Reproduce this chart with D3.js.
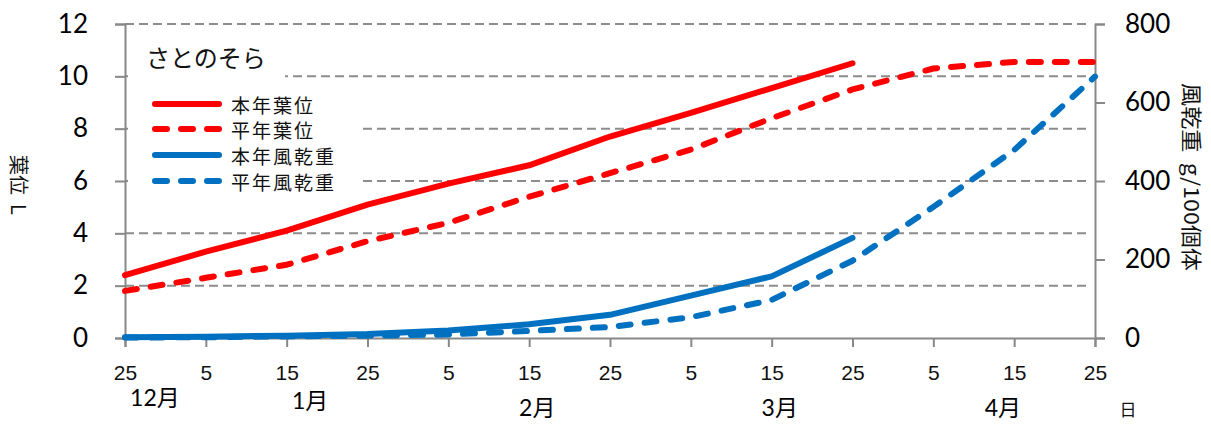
<!DOCTYPE html>
<html>
<head>
<meta charset="utf-8">
<script src="https://cdn.jsdelivr.net/npm/d3@7"></script>
<style>
  html, body { margin: 0; padding: 0; background: #fff; }
  svg { display: block; }
</style>
</head>
<body>
<svg id="chart" width="1211" height="424"></svg>
<script>
// Ten-day survey dates (Dec 25 → Apr 25)
const dayLabels = ["25", "5", "15", "25", "5", "15", "25", "5", "15", "25", "5", "15", "25"];
const monthLabels = ["12月", "1月", "2月", "3月", "4月"];

// Leaf stage (left axis, L)
const leafThisYear = [2.4, 3.3, 4.1, 5.1, 5.9, 6.6, 7.7, 8.6, 9.55, 10.5];
const leafNormal   = [1.8, 2.3, 2.8, 3.7, 4.4, 5.4, 6.3, 7.2, 8.4, 9.5, 10.3, 10.55, 10.55];

// Air-dry weight (right axis, g/100 plants)
const dryThisYear = [2, 3, 6, 10, 19, 35, 59, 108, 157, 255];
const dryNormal   = [1, 2, 4, 6, 9, 18, 28, 53, 97, 197, 334, 479, 666];

const leftTicks  = [0, 2, 4, 6, 8, 10, 12];
const rightTicks = [0, 200, 400, 600, 800];

const seriesNames = ["本年葉位", "平年葉位", "本年風乾重", "平年風乾重"];
const chartTitle = "さとのそら";

const RED = "#ff0000", BLUE = "#0070c0", GRID = "#8c8c8c", AXIS = "#888888";
const NUM_FONT = "Lato, 'Noto Sans CJK JP', sans-serif";
const JP_FONT = "'Noto Sans CJK JP', sans-serif";

const svg = d3.select("#chart");
const plotLeft = 125, plotRight = 1095, plotTop = 24, plotBottom = 338;

const x = d3.scalePoint().domain(d3.range(dayLabels.length)).range([plotLeft, plotRight]);
const yL = d3.scaleLinear().domain([0, 12]).range([plotBottom, plotTop]);
const yR = d3.scaleLinear().domain([0, 800]).range([plotBottom, plotTop]);

// Horizontal dashed gridlines
svg.append("g").selectAll("line")
  .data(leftTicks.filter(d => d > 0))
  .join("line")
  .attr("x1", plotLeft).attr("x2", plotRight - 6)
  .attr("y1", d => yL(d)).attr("y2", d => yL(d))
  .attr("stroke", GRID).attr("stroke-width", 2)
  .attr("stroke-dasharray", "9,5");

// Left axis
const axL = svg.append("g").attr("transform", `translate(${plotLeft},0)`)
  .call(d3.axisLeft(yL).tickValues(leftTicks).tickSize(10).tickPadding(27));
axL.select(".domain").attr("stroke", AXIS).attr("stroke-width", 2);
axL.selectAll(".tick line").attr("stroke", AXIS).attr("stroke-width", 2);
axL.selectAll(".tick text").attr("font-family", NUM_FONT).attr("font-size", 26).attr("fill", "#000");

// Right axis
const axR = svg.append("g").attr("transform", `translate(${plotRight},0)`)
  .call(d3.axisRight(yR).tickValues(rightTicks).tickSize(10).tickPadding(20));
axR.select(".domain").attr("stroke", AXIS).attr("stroke-width", 2);
axR.selectAll(".tick line").attr("stroke", AXIS).attr("stroke-width", 2);
axR.selectAll(".tick text").attr("font-family", NUM_FONT).attr("font-size", 26).attr("fill", "#000");

// Bottom axis with day labels
const axB = svg.append("g").attr("transform", `translate(0,${plotBottom})`)
  .call(d3.axisBottom(x).tickFormat(i => dayLabels[i]).tickSize(9).tickPadding(18));
axB.select(".domain").attr("stroke", AXIS).attr("stroke-width", 2);
axB.selectAll(".tick line").attr("stroke", AXIS).attr("stroke-width", 2);
axB.selectAll(".tick text").attr("font-family", "'Liberation Sans', sans-serif").attr("font-size", 21).attr("fill", "#111");

// Month labels beneath the day ticks (fractional tick position, vertical centre)
const monthLayout = [[0.37, 397], [2.29, 400], [5.1, 407], [8.1, 407], [10.86, 407]];
const step = x.step();
svg.append("g").selectAll("text")
  .data(monthLabels)
  .join("text")
  .attr("x", (d, i) => plotLeft + monthLayout[i][0] * step)
  .attr("y", (d, i) => monthLayout[i][1])
  .attr("text-anchor", "middle").attr("dominant-baseline", "central")
  .attr("font-family", NUM_FONT).attr("font-size", 23).attr("fill", "#000")
  .text(d => d);

svg.append("text").attr("x", 1128).attr("y", 408)
  .attr("text-anchor", "middle").attr("dominant-baseline", "central")
  .attr("font-family", JP_FONT).attr("font-size", 17).attr("fill", "#111").text("日");

// Axis titles (rotated clockwise)
svg.append("text").attr("transform", "translate(19,185) rotate(90)")
  .attr("text-anchor", "middle").attr("dominant-baseline", "central")
  .attr("font-family", JP_FONT).attr("font-size", 20).attr("fill", "#111")
  .attr("xml:space", "preserve").text("葉位  L");

svg.append("text").attr("transform", "translate(1193,177) rotate(90)")
  .attr("text-anchor", "middle").attr("dominant-baseline", "central")
  .attr("font-family", JP_FONT).attr("font-size", 21).attr("fill", "#111")
  .attr("textLength", 188).attr("lengthAdjust", "spacingAndGlyphs")
  .attr("xml:space", "preserve").text("風乾重  g/100個体");

// Title and legend panels sit over the gridlines
svg.append("rect").attr("x", 128).attr("y", 34).attr("width", 157).attr("height", 47).attr("fill", "#fff");
svg.append("rect").attr("x", 128).attr("y", 86).attr("width", 230).attr("height", 108).attr("fill", "#fff");

svg.append("text").attr("x", 146).attr("y", 56)
  .attr("dominant-baseline", "central")
  .attr("font-family", JP_FONT).attr("font-size", 24).attr("fill", "#111").text(chartTitle);

// Data lines
const lineL = d3.line().x((d, i) => x(i)).y(d => yL(d));
const lineR = d3.line().x((d, i) => x(i)).y(d => yR(d));
const DASH = "12,14";

const series = [
  { data: leafThisYear, gen: lineL, color: RED,  dash: null },
  { data: leafNormal,   gen: lineL, color: RED,  dash: DASH },
  { data: dryThisYear,  gen: lineR, color: BLUE, dash: null },
  { data: dryNormal,    gen: lineR, color: BLUE, dash: DASH }
];

// Blue (weight) drawn first, then red
[series[3], series[2], series[1], series[0]].forEach(s => {
  svg.append("path")
    .attr("d", s.gen(s.data))
    .attr("fill", "none")
    .attr("stroke", s.color)
    .attr("stroke-width", 6)
    .attr("stroke-linecap", "round")
    .attr("stroke-linejoin", "round")
    .attr("stroke-dasharray", s.dash);
});

// Legend
const legendRows = [104, 129, 155, 181];
const lg = svg.append("g");
series.forEach((s, i) => {
  lg.append("line")
    .attr("x1", 155).attr("x2", 219)
    .attr("y1", legendRows[i]).attr("y2", legendRows[i])
    .attr("stroke", s.color).attr("stroke-width", 6)
    .attr("stroke-linecap", "round")
    .attr("stroke-dasharray", s.dash);
  lg.append("text")
    .attr("x", 231).attr("y", legendRows[i])
    .attr("dominant-baseline", "central")
    .attr("font-family", JP_FONT).attr("font-size", 19).attr("fill", "#111")
    .attr("letter-spacing", 2)
    .text(seriesNames[i]);
});
</script>
</body>
</html>
